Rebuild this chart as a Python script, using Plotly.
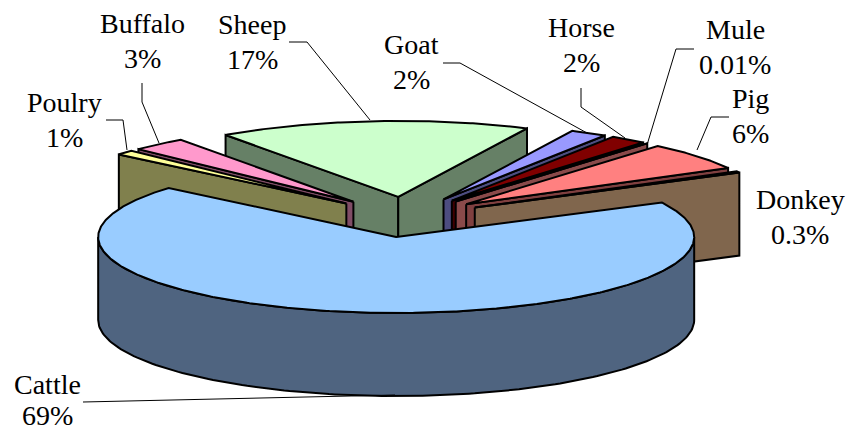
import numpy as np
import plotly.graph_objects as go

# Data, clockwise from the cattle slice
categories = ["Cattle", "Poulry", "Buffalo", "Sheep", "Goat", "Horse", "Mule", "Pig", "Donkey"]
values = [69, 1, 3, 17, 2, 2, 0.01, 6, 0.3]
top_colors = ["#99CCFF", "#FFFF99", "#FF99CC", "#CCFFCC", "#9999FF", "#800000", "#C87878", "#FF8080", "#E8A898"]
wall_colors = ["#4F6480", "#80804D", "#804D66", "#668066", "#4D4D80", "#400000", "#8A4A4A", "#804040", "#80664D"]

# Pie geometry
CX, CY = 405.0, 217.0
RX, RY = 298.0, 76.0
EXPLODE = 0.265
DEPTH = 83.0
START_DEG = 62.6
draw_order = ["Sheep", "Buffalo", "Poulry", "Goat", "Horse", "Mule", "Pig", "Donkey", "Cattle"]

# Label placement (centre x, centre y)
label_pos = {
    "Cattle": (47, 399.5), "Poulry": (64, 120), "Buffalo": (142, 41), "Sheep": (252, 42),
    "Goat": (411, 62), "Horse": (581, 45), "Mule": (735, 47), "Pig": (750, 116), "Donkey": (800, 217),
}
line_gap = {"Cattle": 15.5}
leaders = {
    "Cattle": [(83, 402), (395, 395)],
    "Poulry": [(106, 120), (123, 120), (127, 150)],
    "Buffalo": [(142, 83), (142, 102), (159, 143)],
    "Sheep": [(289, 42), (307, 42), (370, 120)],
    "Goat": [(443, 63), (460, 63), (587, 133)],
    "Horse": [(581, 88), (581, 107), (625, 138)],
    "Mule": [(694, 49), (676, 49), (647, 145)],
    "Pig": [(729, 117), (711, 117), (697, 150)],
}

total = sum(values)
edges = START_DEG + np.concatenate([[0], np.cumsum(values)]) * 360.0 / total
fig = go.Figure()


def poly(xs, ys, fill, name, width=2):
    fig.add_trace(go.Scatter(
        x=list(xs) + [xs[0]], y=list(ys) + [ys[0]], mode="lines", fill="toself", fillcolor=fill,
        line=dict(color="black", width=width), name=name, hoverinfo="name", showlegend=False))


for name in draw_order:
    i = categories.index(name)
    a, b = edges[i], edges[i + 1]
    mid = np.radians((a + b) / 2)
    ax = CX + EXPLODE * RX * np.sin(mid)
    ay = CY - EXPLODE * RY * np.cos(mid)
    pt = lambda d: (ax + RX * np.sin(np.radians(d)), ay - RY * np.cos(np.radians(d)))
    # radial side faces that turn towards the viewer
    if np.sin(np.radians(a)) < 0:
        px, py = pt(a)
        poly([ax, px, px, ax], [ay, py, py + DEPTH, ay + DEPTH], wall_colors[i], name)
    if np.sin(np.radians(b)) > 0:
        px, py = pt(b)
        poly([ax, px, px, ax], [ay, py, py + DEPTH, ay + DEPTH], wall_colors[i], name)
    # rim on the front half of the circle
    lo, hi = max(a, 90), min(b, 270)
    if hi > lo:
        th = np.linspace(lo, hi, 160)
        xs, ys = pt(th)
        poly(list(xs) + list(xs[::-1]), list(ys) + list(ys[::-1] + DEPTH), wall_colors[i], name)
    # top surface
    th = np.linspace(a, b, max(3, int((b - a) * 2)))
    xs, ys = pt(th)
    poly([ax] + list(xs), [ay] + list(ys), top_colors[i], name)

for name, pts in leaders.items():
    fig.add_trace(go.Scatter(x=[p[0] for p in pts], y=[p[1] for p in pts], mode="lines",
                             line=dict(color="black", width=1), hoverinfo="skip", showlegend=False))

annotations = []
for name, v in zip(categories, values):
    x, y = label_pos[name]
    gap = line_gap.get(name, 17.5)
    for text, yy in ((name, y - gap), (f"{v:g}%", y + gap)):
        annotations.append(dict(x=x, y=yy, xref="x", yref="y", text=text, showarrow=False,
                                xanchor="center", yanchor="middle", align="center",
                                font=dict(family="Liberation Serif", size=28, color="black")))

fig.update_layout(
    width=847, height=430, margin=dict(l=0, r=0, t=0, b=0), paper_bgcolor="white", plot_bgcolor="white",
    xaxis=dict(range=[0, 847], visible=False, fixedrange=True),
    yaxis=dict(range=[430, 0], visible=False, fixedrange=True),
    annotations=annotations, showlegend=False,
)
fig.write_html("out.html", config=dict(displayModeBar=False),
               post_script="document.body.style.margin='0';document.documentElement.style.overflow='hidden';")
